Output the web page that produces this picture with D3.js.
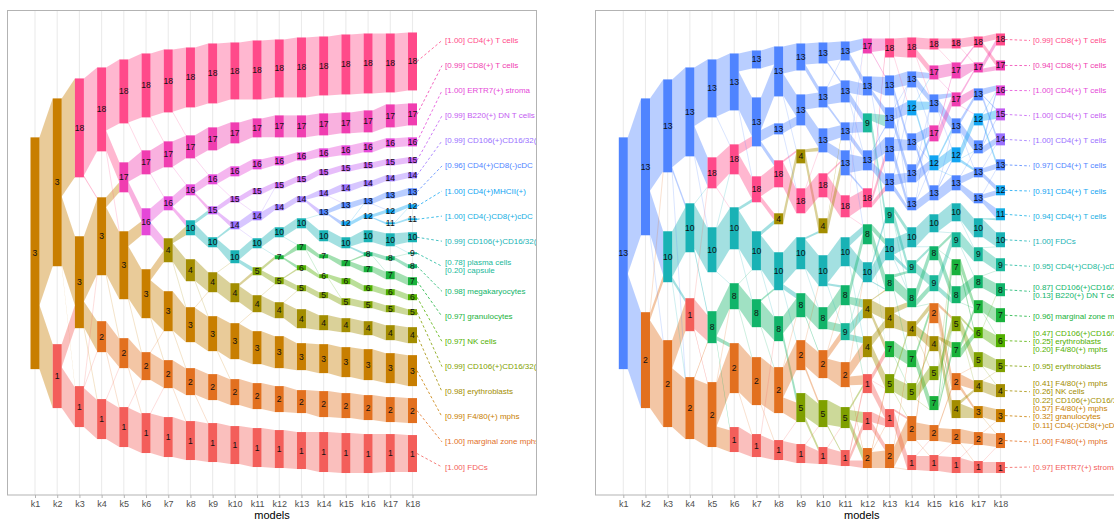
<!DOCTYPE html>
<html>
<head>
<meta charset="utf-8">
<script src="https://cdn.jsdelivr.net/npm/d3@7"></script>
<style>
  body { margin: 0; background: #fff; }
  svg { display: block; }
  text { font-family: "Liberation Sans", Arial, Helvetica, sans-serif; }
</style>
</head>
<body>
<svg id="chart" width="1114" height="520"></svg>
<script>
// ---- shared axis categories -------------------------------------------------
const models = ["k1","k2","k3","k4","k5","k6","k7","k8","k9","k10","k11","k12","k13","k14","k15","k16","k17","k18"];

// colour of each cluster id
const clusterColours = {
  1: "#F35E5A", 2: "#E2701F", 3: "#C87E00", 4: "#A38D00", 5: "#7FA000", 6: "#52B000",
  7: "#19B23C", 8: "#11B46A", 9: "#19B89A", 10: "#19B2B5", 11: "#15AEE3", 12: "#10A4F2",
  13: "#4F84FF", 14: "#9A70FF", 15: "#C45BF2", 16: "#E548D8", 17: "#F03DB0", 18: "#FF4A8A"
};

// ---- left tree: nodes per model as [cluster, top, bottom] in stacked units ---
const leftNodes = [
  [[3,25.4,71.8]],
  [[3,17.6,51.2],[1,66.8,79.6]],
  [[18,13.6,33.4],[3,45.2,63.6],[1,75.2,83.4]],
  [[18,11.4,28.2],[3,37.4,53.0],[2,62.2,68.4],[1,77.8,85.8]],
  [[18,9.8,22.6],[17,30.4,36.4],[3,44.2,57.8],[2,65.6,71.6],[1,79.4,87.4]],
  [[18,8.6,21.4],[17,28.0,32.8],[16,39.6,45.0],[3,51.8,61.6],[2,68.4,74.0],[1,80.6,88.6]],
  [[18,7.8,20.4],[17,26.2,31.4],[16,37.2,40.0],[4,45.6,50.4],[3,56.2,64.2],[2,70.0,75.6],[1,81.4,89.4]],
  [[18,7.4,19.4],[17,25.0,29.6],[16,34.8,37.0],[10,42.0,45.0],[4,49.8,54.2],[3,59.4,66.4],[2,71.6,77.0],[1,82.2,90.0]],
  [[18,6.6,18.6],[17,23.4,28.0],[16,32.8,34.8],[15,39.2,40.8],[10,45.4,47.4],[4,52.4,56.4],[3,61.2,68.2],[2,72.8,78.0],[1,82.6,90.4]],
  [[18,6.4,17.8],[17,22.4,26.6],[16,31.2,33.2],[15,37.2,38.4],[14,42.2,43.8],[10,48.0,50.6],[4,54.6,58.4],[3,62.6,69.8],[2,73.8,79.0],[1,83.2,90.8]],
  [[18,6.0,17.8],[17,21.6,25.4],[16,29.8,31.8],[15,35.6,36.8],[14,40.2,42.0],[10,45.6,47.6],[5,51.4,53.0],[4,57.0,60.4],[3,64.2,70.8],[2,74.6,79.8],[1,83.6,91.4]],
  [[18,5.8,17.4],[17,21.0,25.4],[16,29.2,31.0],[15,34.4,35.6],[14,38.8,40.0],[10,43.4,45.4],[7,49.0,49.8],[5,53.4,54.8],[4,58.4,61.6],[3,65.2,71.6],[2,75.2,80.4],[1,84.0,91.6]],
  [[18,5.4,17.4],[17,21.0,25.4],[16,28.4,30.0],[15,33.2,34.4],[14,37.2,38.4],[10,41.6,43.6],[7,46.8,48.0],[6,51.0,52.0],[5,55.0,56.2],[4,59.8,63.6],[3,66.6,72.0],[2,76.0,80.6],[1,84.4,91.8]],
  [[18,5.2,17.0],[17,20.6,25.0],[16,27.6,29.4],[15,31.8,33.0],[14,36.0,37.2],[13,39.8,41.0],[10,44.0,46.2],[7,48.8,49.6],[6,52.8,53.6],[5,56.4,57.6],[4,61.0,64.0],[3,66.8,72.6],[2,76.2,81.4],[1,84.4,92.4]],
  [[18,4.8,16.8],[17,20.4,24.6],[16,27.0,29.0],[15,31.0,32.2],[14,34.8,36.2],[13,38.4,39.6],[12,42.2,43.0],[10,45.4,47.6],[7,50.0,51.2],[6,53.6,54.8],[5,57.6,59.0],[4,61.6,64.4],[3,67.4,73.4],[2,76.6,81.6],[1,84.6,92.6]],
  [[18,4.6,16.6],[17,20.0,24.4],[16,26.4,28.4],[15,30.4,31.6],[14,34.0,35.2],[13,37.6,38.8],[12,40.8,41.6],[10,44.0,46.4],[8,48.4,49.2],[7,51.2,52.4],[6,55.0,56.2],[5,58.2,59.6],[4,62.2,65.0],[3,67.8,74.0],[2,77.0,82.0],[1,84.8,92.6]],
  [[18,4.6,16.4],[17,18.8,23.4],[16,25.6,27.4],[15,29.8,31.0],[14,33.0,34.2],[13,36.4,37.6],[12,39.8,40.6],[11,42.4,42.8],[10,44.6,47.2],[8,49.2,50.0],[7,52.2,53.8],[6,55.8,57.0],[5,59.0,60.4],[4,63.0,66.0],[3,68.6,74.6],[2,77.4,82.4],[1,84.8,92.4]],
  [[18,4.4,16.0],[17,18.6,23.0],[16,25.4,27.2],[15,29.4,30.6],[14,32.4,33.6],[13,35.6,37.0],[12,38.8,39.6],[11,41.6,42.0],[10,44.4,46.4],[9,48.4,48.8],[8,50.8,51.6],[7,53.4,55.0],[6,56.8,58.0],[5,59.8,61.0],[4,63.4,66.6],[3,69.0,75.2],[2,77.6,82.6],[1,85.0,92.4]]
];

// left tree: cells moving to a different cluster between models, [from, to, size];
// a cluster that persists keeps its own cells unless listed here
const leftTransfers = [
  [[3,1,12.8]],
  [[3,18,19.8],[3,3,13.8],[1,3,4.6],[3,1,0.3]],
  [[3,2,6.2],[18,3,0.3],[1,3,0.2],[3,1,0.2],[1,2,0.2]],
  [[18,17,4.0],[3,17,2.0],[18,3,0.2],[2,1,0.2],[1,2,0.2],[3,2,0.2]],
  [[17,16,2.6],[3,16,2.8],[18,17,0.2],[2,1,0.2],[3,2,0.2],[1,2,0.15]],
  [[16,4,2.6],[3,4,2.4],[17,16,0.15],[18,17,0.15],[2,3,0.1],[1,2,0.1],[3,2,0.15]],
  [[16,10,0.8],[4,10,1.2],[18,17,0.1],[17,16,0.1],[3,2,0.1],[2,1,0.1],[4,3,0.1]],
  [[10,15,0.6],[16,15,0.6],[17,16,0.1],[3,4,0.1],[2,1,0.1],[4,3,0.1]],
  [[15,14,0.8],[10,14,0.4],[16,15,0.1],[4,10,0.1],[3,2,0.1]],
  [[10,5,0.8],[4,5,0.6],[14,10,0.1],[15,14,0.1],[3,4,0.1]],
  [[5,7,0.9],[10,7,0.3],[14,15,0.1],[4,5,0.1]],
  [[7,6,0.6],[5,6,0.3],[10,7,0.1],[4,5,0.1]],
  [[14,13,0.9],[10,13,0.2],[7,6,0.1]],
  [[13,12,0.6],[14,13,0.1],[6,5,0.1]],
  [[10,8,0.4],[7,8,0.3],[12,13,0.1]],
  [[12,11,0.3],[8,7,0.1],[13,12,0.1]],
  [[8,9,0.3],[10,9,0.2],[11,12,0.1]]
];

// left tree: cell-type annotation of each final cluster
const leftAnnotations = [
  [18, ["[1.00] CD4(+) T cells"]],
  [17, ["[0.99] CD8(+) T cells"]],
  [16, ["[1.00] ERTR7(+) stroma"]],
  [15, ["[0.99] B220(+) DN T cells"]],
  [14, ["[0.99] CD106(+)CD16/32(+)"]],
  [13, ["[0.96] CD4(+)CD8(-)cDC"]],
  [12, ["[1.00] CD4(+)MHCII(+)"]],
  [11, ["[1.00] CD4(-)CD8(+)cDC"]],
  [10, ["[0.99] CD106(+)CD16/32(+)"]],
  [9,  ["[0.78] plasma cells", "[0.20] capsule"]],
  [8,  ["[0.98] megakaryocytes"]],
  [7,  ["[0.97] granulocytes"]],
  [6,  ["[0.97] NK cells"]],
  [5,  ["[0.99] CD106(+)CD16/32(+)"]],
  [4,  ["[0.98] erythroblasts"]],
  [3,  ["[0.99] F4/80(+) mphs"]],
  [2,  ["[1.00] marginal zone mphs"]],
  [1,  ["[1.00] FDCs"]]
];

// ---- right tree: nodes per model as [cluster, top, bottom] --------------------
const rightNodes = [
  [[13,25.4,71.8]],
  [[13,17.6,45.0],[2,60.4,79.6]],
  [[13,13.8,32.4],[10,44.2,54.4],[2,66.0,83.4]],
  [[13,11.4,29.2],[10,38.6,48.4],[1,57.6,64.2],[2,73.4,85.8]],
  [[13,9.8,21.4],[18,29.4,35.6],[10,43.4,52.4],[8,60.2,66.6],[2,74.4,87.4]],
  [[13,8.6,20.0],[18,26.8,32.8],[10,39.4,47.8],[8,54.6,59.8],[2,66.6,76.6],[1,83.4,88.4]],
  [[13,8.0,11.6],[13,17.4,27.2],[18,33.2,38.4],[10,44.2,52.0],[8,57.8,63.4],[2,69.4,79.0],[1,84.8,89.4]],
  [[13,7.2,17.2],[13,22.6,24.8],[18,30.0,35.4],[4,40.6,42.8],[10,48.4,56.0],[8,61.2,66.2],[2,71.4,80.6],[1,86.0,90.0]],
  [[13,6.6,12.0],[13,16.8,23.0],[4,27.8,30.6],[18,35.6,40.6],[10,45.4,51.8],[8,56.6,61.4],[2,66.0,72.0],[5,76.6,82.4],[1,86.8,90.6]],
  [[13,6.4,10.6],[13,15.2,19.4],[13,23.6,28.4],[18,32.6,37.4],[4,41.6,44.6],[10,49.0,55.2],[8,59.4,63.8],[2,68.0,73.6],[5,78.0,83.4],[1,87.4,90.8]],
  [[13,6.2,10.0],[13,14.0,18.4],[13,22.4,26.0],[13,28.0,33.0],[18,37.0,41.4],[10,45.4,51.2],[8,55.0,59.0],[9,62.6,66.0],[2,70.4,75.4],[5,79.4,83.6],[1,88.0,91.2]],
  [[17,5.6,8.6],[13,13.2,17.0],[9,20.6,24.4],[13,28.0,32.0],[18,35.6,39.4],[8,42.8,46.8],[10,50.4,54.4],[4,57.8,61.6],[4,65.2,69.4],[1,72.8,76.6],[1,80.4,84.0],[2,87.6,91.6]],
  [[18,5.6,9.4],[13,13.0,17.0],[13,19.4,23.6],[13,25.4,30.2],[13,32.6,36.2],[9,39.4,42.6],[10,45.6,50.0],[8,52.8,56.2],[4,59.4,63.6],[7,66.2,69.4],[5,72.8,76.6],[1,79.8,83.4],[2,86.8,91.6]],
  [[18,5.4,9.4],[13,12.2,15.4],[12,18.0,21.0],[13,24.6,28.0],[13,30.8,34.4],[13,37.4,40.0],[10,43.4,47.4],[9,50.0,52.6],[8,55.6,59.4],[4,62.2,65.2],[7,68.0,71.4],[5,74.6,78.0],[2,81.2,86.2],[1,89.0,92.0]],
  [[18,5.6,7.8],[17,11.0,13.8],[13,16.8,20.4],[17,23.0,26.2],[12,29.0,32.0],[13,35.0,38.0],[10,40.8,44.4],[8,47.2,50.0],[9,53.0,56.2],[2,58.6,62.6],[4,65.2,68.2],[5,71.2,74.0],[7,77.2,80.0],[2,83.0,86.2],[1,89.0,92.2]],
  [[18,5.6,7.6],[17,10.4,13.6],[17,16.4,19.2],[13,21.6,24.6],[12,27.4,30.4],[13,33.0,36.0],[10,38.6,42.2],[9,44.4,47.4],[7,49.8,53.0],[8,55.2,58.6],[5,61.2,64.2],[7,66.4,69.4],[2,72.6,76.0],[4,78.0,81.6],[2,83.8,86.8],[1,89.4,92.6]],
  [[18,5.2,7.4],[17,10.4,12.4],[13,15.6,18.0],[12,20.6,23.0],[13,26.0,28.6],[13,31.4,33.4],[13,36.6,38.6],[10,41.6,45.4],[9,47.4,50.2],[8,53.0,55.6],[7,58.0,60.6],[6,63.4,65.6],[5,68.4,71.4],[4,74.0,76.4],[3,79.2,81.6],[2,84.4,87.0],[1,90.2,92.6]],
  [[18,4.6,7.0],[17,10.0,12.0],[16,15.0,17.0],[15,19.6,22.0],[14,24.6,27.0],[13,29.8,32.0],[12,35.0,37.0],[11,39.6,42.0],[10,44.4,47.4],[9,49.6,52.2],[8,54.6,57.2],[7,59.6,62.4],[6,64.8,67.4],[5,69.8,72.4],[4,74.8,77.4],[3,79.8,82.4],[2,84.6,87.6],[1,90.4,92.6]]
];

// right tree: flows between consecutive models, [source node, target node, cells]
const rightFlows = [
  [[0,0,137],[0,1,96]],
  [[0,0,93],[0,1,44],[1,1,7],[1,2,87],[0,2,1],[1,0,1]],
  [[0,0,88],[0,1,4],[1,1,45],[1,2,4],[2,2,28],[2,3,59],[0,3,1],[1,3,1]],
  [[0,0,58],[0,1,29],[1,2,44],[1,3,4],[2,3,26],[2,4,2],[3,4,62],[3,3,2],[0,2,1],[1,1,1],[2,1,1]],
  [[0,0,57],[1,1,29],[2,2,42],[3,3,25],[3,4,4],[4,4,44],[4,5,21],[3,5,3],[0,1,1],[2,3,1],[2,1,1],[1,2,1],[4,3,1]],
  [[0,0,18],[0,1,38],[1,1,10],[1,2,20],[2,3,39],[2,2,3],[3,4,26],[4,5,48],[5,6,23],[4,6,1],[3,5,1],[2,4,1],[0,2,1],[3,3,1]],
  [[0,0,18],[1,0,32],[1,1,11],[1,2,5],[2,2,20],[2,3,6],[3,3,4],[3,4,35],[4,5,25],[4,4,2],[5,6,46],[6,7,20],[5,7,1],[4,6,1],[6,5,1],[3,5,1]],
  [[0,0,27],[0,1,22],[1,1,9],[2,3,25],[2,2,2],[3,2,11],[4,4,32],[4,5,5],[5,5,17],[5,7,8],[6,6,30],[6,7,16],[7,8,19],[7,7,1],[4,6,1],[6,5,1],[1,3,1],[0,2,1]],
  [[0,0,21],[0,1,6],[1,1,15],[1,2,16],[2,2,3],[2,4,11],[3,3,24],[3,2,1],[4,5,30],[4,4,2],[5,6,22],[5,7,2],[6,7,26],[6,8,4],[7,8,24],[7,9,5],[8,9,17],[4,6,1],[6,5,1],[8,8,1]],
  [[0,0,19],[0,1,2],[1,1,18],[1,2,3],[2,2,13],[2,3,10],[3,4,22],[3,3,2],[4,3,12],[4,2,3],[5,5,29],[5,6,2],[6,6,14],[6,7,8],[7,8,20],[7,7,8],[8,9,21],[8,10,2],[9,10,16],[5,7,1],[7,6,1],[9,9,1],[1,0,1]],
  [[0,0,12],[0,1,7],[1,1,12],[1,2,8],[2,2,10],[2,3,6],[3,3,14],[3,0,3],[3,4,2],[4,4,17],[4,0,2],[5,6,18],[5,5,8],[6,5,12],[6,7,8],[7,7,10],[7,8,6],[8,8,14],[8,9,9],[8,11,2],[9,10,10],[9,11,8],[9,9,3],[10,9,5],[10,10,6],[10,11,6],[5,8,1],[6,9,1],[7,6,1],[2,5,1],[4,5,1],[1,3,1],[8,6,1]],
  [[0,0,10],[4,0,6],[1,1,12],[1,2,4],[2,2,6],[2,5,8],[3,3,10],[3,4,8],[4,3,5],[4,4,4],[5,7,10],[5,6,5],[6,6,14],[6,5,4],[7,8,12],[7,9,5],[8,8,8],[8,10,10],[9,11,10],[9,9,5],[10,11,8],[10,12,6],[11,12,16],[11,10,3],[0,1,1],[1,4,1],[3,2,1],[5,9,1],[6,7,1],[7,7,1],[9,10,1],[11,11,1],[2,6,1]],
  [[0,0,19],[1,1,12],[1,3,6],[2,2,10],[2,4,8],[3,3,10],[3,5,8],[4,4,9],[4,5,5],[5,7,10],[5,6,5],[6,6,14],[6,7,4],[7,8,12],[7,7,3],[8,9,12],[8,8,5],[9,10,14],[10,11,14],[10,9,4],[11,13,16],[11,12,2],[12,12,20],[12,10,3],[0,2,1],[1,5,1],[2,1,1],[3,1,1],[4,2,1],[6,8,1],[9,11,1],[10,12,1],[12,13,1],[5,8,1],[7,10,1]],
  [[0,0,12],[0,1,8],[1,1,6],[1,2,8],[2,2,9],[2,4,5],[3,3,10],[3,5,6],[4,4,10],[4,3,5],[5,5,9],[5,2,3],[6,6,18],[7,8,10],[7,7,3],[8,7,10],[8,8,6],[9,10,10],[9,9,5],[10,12,12],[10,9,5],[11,11,14],[11,10,3],[12,13,16],[12,9,6],[13,14,15],[1,3,1],[2,1,1],[3,4,1],[4,2,1],[5,4,1],[6,7,1],[8,9,1],[9,11,1],[11,12,1],[12,14,1],[13,13,1],[0,2,1]],
  [[0,0,10],[1,1,14],[2,3,9],[2,2,4],[3,2,10],[3,1,3],[4,4,12],[4,3,3],[5,5,12],[5,4,2],[6,6,18],[7,9,10],[7,7,3],[8,7,10],[8,9,5],[9,12,14],[9,10,3],[10,13,12],[10,11,3],[11,10,12],[12,8,12],[12,11,4],[13,14,14],[14,15,15],[13,12,3],[0,1,1],[1,2,1],[2,4,1],[4,5,1],[5,3,1],[6,7,1],[7,8,1],[9,13,1],[10,12,1],[11,8,1],[12,10,1],[14,14,1]],
  [[0,0,10],[1,1,10],[1,0,2],[2,1,3],[2,2,8],[3,2,4],[3,4,8],[4,3,10],[4,5,3],[5,5,8],[5,6,7],[6,7,18],[7,8,14],[8,10,10],[8,11,5],[9,9,14],[10,12,12],[10,11,3],[11,11,8],[11,10,6],[12,13,10],[12,14,4],[13,14,12],[13,13,3],[14,15,14],[15,16,15],[0,1,1],[2,3,1],[3,5,1],[4,4,1],[5,4,1],[6,8,1],[7,9,1],[9,10,1],[10,13,1],[12,12,1],[14,16,1],[15,15,1]],
  [[0,0,6],[0,1,5],[1,0,6],[1,1,4],[2,2,6],[2,4,4],[3,3,6],[3,5,4],[4,2,4],[4,4,6],[5,5,5],[5,6,5],[6,6,5],[6,7,5],[7,8,18],[8,9,14],[9,10,13],[10,11,13],[11,12,11],[12,13,14],[13,14,12],[14,15,12],[15,16,13],[16,17,12],[2,3,1],[3,2,1],[4,3,1],[5,4,1],[6,5,1],[7,7,1],[8,8,1],[9,9,1],[10,12,1],[11,10,1],[12,14,1],[13,13,1],[14,16,1],[15,15,1],[16,16,1]]
];

// right tree: cell-type annotation of each final cluster
const rightAnnotations = [
  [18, ["[0.99] CD8(+) T cells"]],
  [17, ["[0.94] CD8(+) T cells"]],
  [16, ["[1.00] CD4(+) T cells"]],
  [15, ["[1.00] CD4(+) T cells"]],
  [14, ["[1.00] CD4(+) T cells"]],
  [13, ["[0.97] CD4(+) T cells"]],
  [12, ["[0.91] CD4(+) T cells"]],
  [11, ["[0.94] CD4(+) T cells"]],
  [10, ["[1.00] FDCs"]],
  [9,  ["[0.95] CD4(+)CD8(-)cDC"]],
  [8,  ["[0.87] CD106(+)CD16/32(+)", "[0.13] B220(+) DN T cells"]],
  [7,  ["[0.96] marginal zone mphs"]],
  [6,  ["[0.47] CD106(+)CD16/32(+)", "[0.25] erythroblasts", "[0.20] F4/80(+) mphs"]],
  [5,  ["[0.95] erythroblasts"]],
  [4,  ["[0.41] F4/80(+) mphs", "[0.26] NK cells", "[0.22] CD106(+)CD16/32(+)"]],
  [3,  ["[0.57] F4/80(+) mphs", "[0.32] granulocytes", "[0.11] CD4(-)CD8(+)cDC"]],
  [2,  ["[1.00] F4/80(+) mphs"]],
  [1,  ["[0.97] ERTR7(+) stroma"]]
];

// ---- drawing ------------------------------------------------------------
const svg = d3.select("#chart");
const yScale = d3.scaleLinear().domain([0, 97]).range([10.5, 495]);
const NODE_W = 9;
const mid = n => (n[1] + n[2]) / 2;

// persisting clusters carry their own cells forward; transfers are added on top
function flowsFromTransfers(cols, transfers) {
  return transfers.map((list, t) => {
    const A = cols[t], B = cols[t + 1];
    const ia = c => A.findIndex(n => n[0] === c);
    const ib = c => B.findIndex(n => n[0] === c);
    const overridden = new Set(list.filter(f => f[0] === f[1]).map(f => f[0]));
    const carry = A.filter(n => ib(n[0]) >= 0 && !overridden.has(n[0]))
      .map(n => { const m = B[ib(n[0])]; return [n[0], n[0], Math.min(n[2] - n[1], m[2] - m[1])]; });
    return carry.concat(list).map(([a, b, w]) => [ia(a), ib(b), w]);
  });
}

// stack every flow inside its source and target node
function stackFlows(cols, steps) {
  const all = [];
  steps.forEach((list, t) => {
    const A = cols[t], B = cols[t + 1];
    const fl = list.map(([s, d, w]) => ({ t, s, d, w }));
    A.forEach((n, i) => {
      const own = fl.filter(f => f.s === i).sort((a, b) => mid(B[a.d]) - mid(B[b.d]) || a.d - b.d);
      const tot = d3.sum(own, f => f.w);
      let acc = n[1];
      own.forEach(f => { const h = (n[2] - n[1]) * f.w / tot; f.a0 = acc; f.a1 = acc + h; acc += h; });
    });
    B.forEach((n, j) => {
      const own = fl.filter(f => f.d === j).sort((a, b) => mid(A[a.s]) - mid(A[b.s]) || a.s - b.s);
      const tot = d3.sum(own, f => f.w);
      let acc = n[1];
      own.forEach(f => { const h = (n[2] - n[1]) * f.w / tot; f.b0 = acc; f.b1 = acc + h; acc += h; });
    });
    fl.forEach(f => { f.colour = clusterColours[A[f.s][0]]; });
    all.push(...fl);
  });
  return all;
}

function drawPanel(p) {
  const x = d3.scalePoint().domain(models).range(p.kRange);
  const [y0, y1] = yScale.range();
  const g = svg.append("g");

  svg.append("clipPath").attr("id", p.id + "-clip").append("rect")
    .attr("x", p.frame[0]).attr("y", 0).attr("width", p.frame[1] - p.frame[0]).attr("height", y1);
  const inner = g.append("g").attr("clip-path", `url(#${p.id}-clip)`);

  // vertical grid lines
  inner.append("g").selectAll("line").data(models).join("line")
    .attr("x1", d => x(d)).attr("x2", d => x(d)).attr("y1", y0).attr("y2", y1)
    .attr("stroke", "#EBEBEB").attr("stroke-width", 1.1);

  const flows = stackFlows(p.nodes, p.flows);
  const px = f => ({
    xa: x(models[f.t]) + NODE_W / 2, xb: x(models[f.t + 1]) - NODE_W / 2,
    a0: yScale(f.a0), a1: yScale(f.a1), b0: yScale(f.b0), b1: yScale(f.b1)
  });
  const isThin = f => { const q = px(f); return (q.a1 - q.a0) < 1.4 && (q.b1 - q.b0) < 1.4; };

  // ribbons
  inner.append("g").selectAll("path").data(flows.filter(f => !isThin(f))).join("path")
    .attr("d", f => { const q = px(f); return `M${q.xa},${q.a0}L${q.xb},${q.b0}L${q.xb},${q.b1}L${q.xa},${q.a1}Z`; })
    .attr("fill", f => f.colour).attr("fill-opacity", 0.4);

  // minor transfers as hairlines
  inner.append("g").selectAll("line").data(flows.filter(isThin)).join("line")
    .attr("x1", f => px(f).xa).attr("x2", f => px(f).xb)
    .attr("y1", f => (px(f).a0 + px(f).a1) / 2).attr("y2", f => (px(f).b0 + px(f).b1) / 2)
    .attr("stroke", f => f.colour).attr("stroke-opacity", 0.3).attr("stroke-width", 0.7);

  // nodes
  const nodeData = p.nodes.flatMap((col, k) => col.map(n => ({ k, c: n[0], top: n[1], bottom: n[2] })));
  inner.append("g").selectAll("rect").data(nodeData).join("rect")
    .attr("x", d => x(models[d.k]) - NODE_W / 2).attr("width", NODE_W)
    .attr("y", d => yScale(d.top)).attr("height", d => Math.max(0.6, yScale(d.bottom) - yScale(d.top)))
    .attr("fill", d => clusterColours[d.c]);
  inner.append("g").selectAll("text").data(nodeData).join("text")
    .attr("x", d => x(models[d.k])).attr("y", d => yScale((d.top + d.bottom) / 2))
    .attr("text-anchor", "middle").attr("dominant-baseline", "central")
    .attr("font-size", 8.6).attr("fill", "#111").text(d => d.c);

  // annotation of the final clusters
  const last = p.nodes[p.nodes.length - 1];
  const slot = d3.scalePoint().domain(p.annotations.map(a => a[0])).range([yScale(6.0), yScale(91.4)]);
  const xLast = x(models[models.length - 1]);
  const ann = inner.append("g");
  p.annotations.forEach(([c, lines]) => {
    const node = last.find(n => n[0] === c);
    const col = clusterColours[c];
    ann.append("line")
      .attr("x1", xLast + NODE_W / 2).attr("y1", yScale(mid(node)))
      .attr("x2", p.annX - 3).attr("y2", slot(c))
      .attr("stroke", col).attr("stroke-width", 0.8).attr("stroke-dasharray", "2.6,2.2");
    lines.forEach((txt, i) => {
      ann.append("text")
        .attr("x", p.annX).attr("y", slot(c) + (i - (lines.length - 1) / 2) * 8.4)
        .attr("dominant-baseline", "central").attr("font-size", 8).attr("fill", col).text(txt);
    });
  });

  // panel border
  g.append("rect").attr("x", p.frame[0]).attr("y", y0).attr("width", p.frame[1] - p.frame[0]).attr("height", y1 - y0)
    .attr("fill", "none").attr("stroke", "#B3B3B3").attr("stroke-width", 1);

  // x axis
  const axis = g.append("g").attr("transform", `translate(0,${y1})`)
    .call(d3.axisBottom(x).tickSize(3).tickPadding(3));
  axis.select(".domain").remove();
  axis.selectAll(".tick line").attr("stroke", "#B3B3B3");
  axis.selectAll(".tick text").attr("fill", "#4D4D4D").attr("font-size", 9)
    .attr("font-family", "'Liberation Sans', Arial, sans-serif");
  g.append("text").attr("x", (p.frame[0] + Math.min(p.frame[1], 1114)) / 2 + p.titleShift).attr("y", 519)
    .attr("text-anchor", "middle").attr("font-size", 11).attr("fill", "#000").text("models");
}

drawPanel({
  id: "left", nodes: leftNodes, flows: flowsFromTransfers(leftNodes, leftTransfers),
  annotations: leftAnnotations, frame: [7.5, 536.5], kRange: [35, 412.5], annX: 445, titleShift: 0
});
drawPanel({
  id: "right", nodes: rightNodes, flows: rightFlows,
  annotations: rightAnnotations, frame: [595.5, 1130], kRange: [623.3, 1000.5], annX: 1033, titleShift: 7
});
</script>
</body>
</html>
